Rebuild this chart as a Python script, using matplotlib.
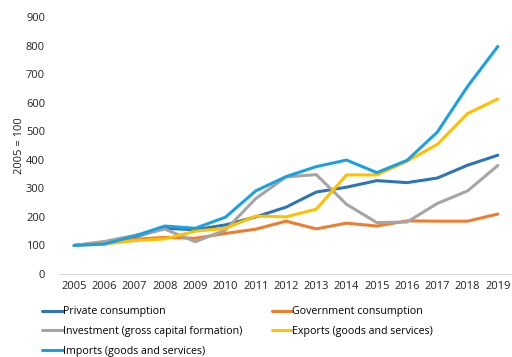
import matplotlib
matplotlib.use("Agg")
import matplotlib.pyplot as plt

years = [str(y) for y in range(2005, 2020)]
private = [100, 110, 130, 160, 155, 172, 200, 234, 287, 304, 327, 320, 336, 381, 416]
government = [100, 110, 122, 128, 125, 142, 157, 185, 158, 178, 168, 186, 185, 185, 210]
investment = [100, 114, 135, 157, 113, 154, 264, 340, 348, 244, 180, 182, 247, 291, 380]
exports = [100, 105, 117, 123, 150, 160, 203, 200, 227, 347, 347, 395, 454, 562, 613]
imports = [100, 105, 133, 168, 160, 199, 291, 341, 376, 399, 355, 398, 497, 657, 797]

series = [
    ("Private consumption", private, "#2E75B6"),
    ("Government consumption", government, "#ED7D31"),
    ("Investment (gross capital formation)", investment, "#A5A5A5"),
    ("Exports (goods and services)", exports, "#FFC000"),
    ("Imports (goods and services)", imports, "#1BA1E2"),
]

plt.rcParams["font.family"] = ["Open Sans", "DejaVu Sans"]
fig = plt.figure(figsize=(5.12, 3.57), dpi=100)
ax = fig.add_axes([59 / 512, (357 - 274) / 357, (513 - 59) / 512, (274 - 17) / 357])

x = list(range(len(years)))
for label, vals, color in series:
    ax.plot(x, vals, color=color, lw=2.2, label=label, solid_capstyle="round")

ax.set_xlim(-0.5, len(years) - 0.5)
ax.set_ylim(0, 900)
ax.set_yticks(range(0, 901, 100))
ax.set_xticks(x)
ax.set_xticklabels(years)
ax.tick_params(axis="both", length=0, labelsize=8, colors="#222222", pad=5)
ax.tick_params(axis="y", pad=10)
for side in ["top", "right", "left"]:
    ax.spines[side].set_visible(False)
ax.spines["bottom"].set_color("#d9d9d9")
ax.spines["bottom"].set_linewidth(0.8)
ax.set_ylabel("2005 = 100", fontsize=8, color="#222222")
ax.yaxis.set_label_coords(-0.075, 0.5)

# legend laid out row by row: two entries per row
handles, labels = ax.get_legend_handles_labels()
order = [0, 2, 4, 1, 3]
leg = fig.legend([handles[i] for i in order], [labels[i] for i in order],
                 ncol=2, loc="upper left",
                 bbox_to_anchor=(38 / 512, 1 - 302 / 357), frameon=False,
                 fontsize=7.7, handlelength=1.9, handletextpad=0.0,
                 columnspacing=2.8, labelspacing=0.82, borderaxespad=0)
fig.savefig("out.png", dpi=100)
